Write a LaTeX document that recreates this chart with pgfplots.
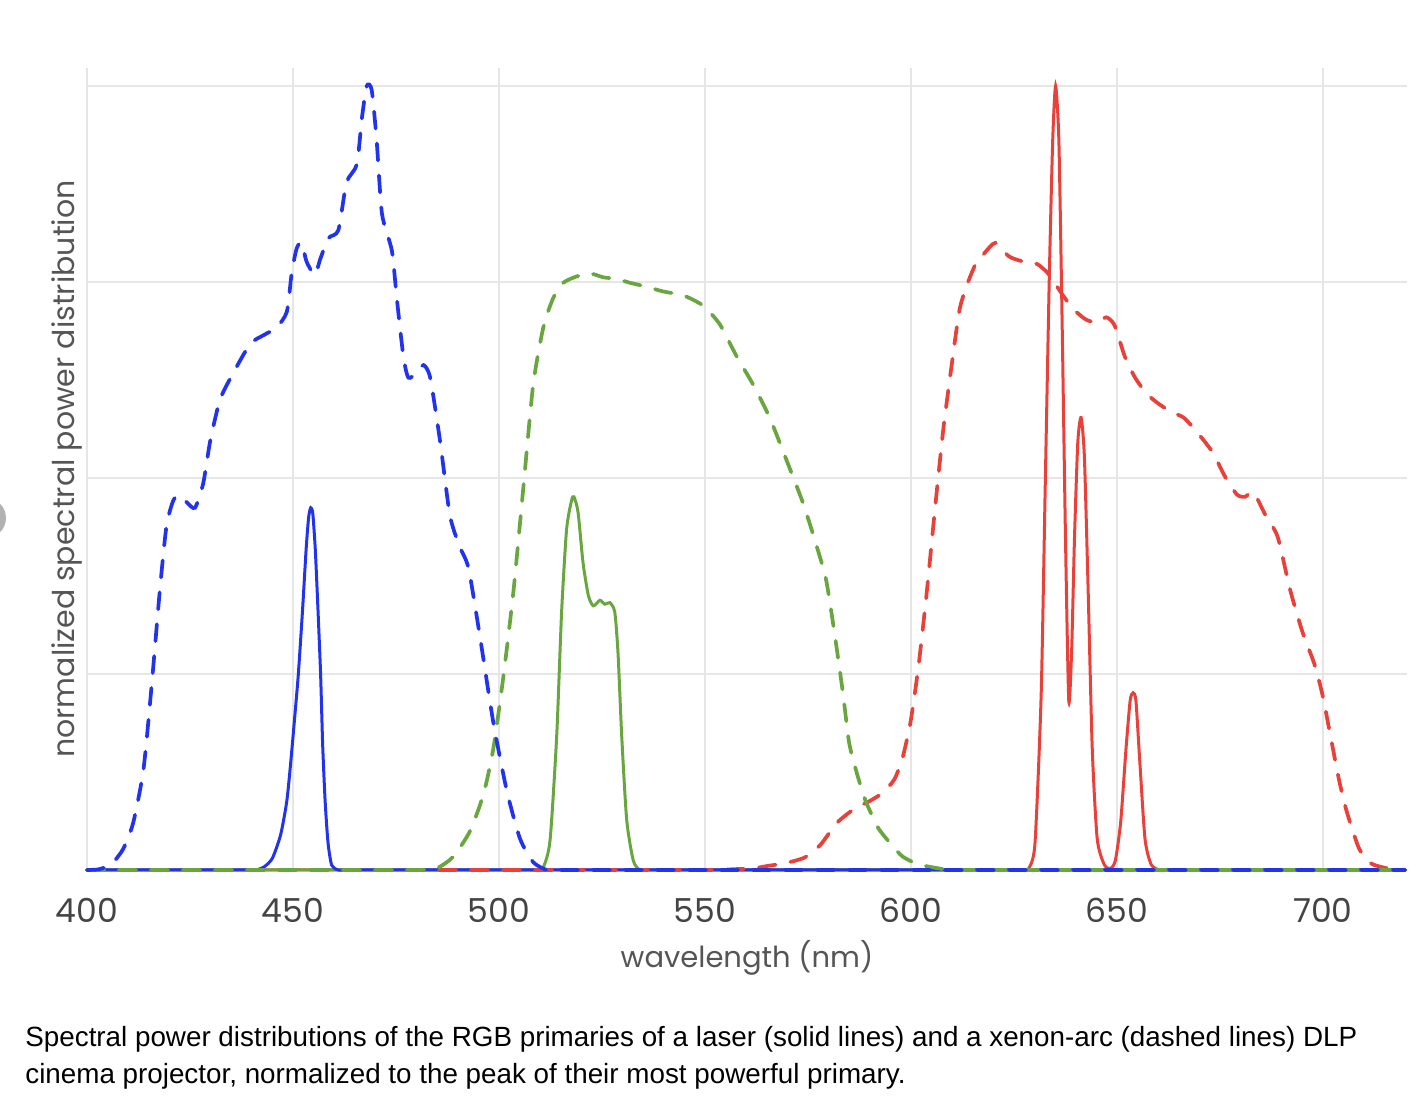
\documentclass[border=0pt]{standalone}
\usepackage{pgfplots}
\pgfplotsset{compat=1.18}
\usepackage{fontspec}
\setmainfont{Liberation Sans}
\newfontfamily\poppins{Poppins}

\definecolor{sprblue}{HTML}{2233EE}
\definecolor{sprgreen}{HTML}{6AA640}
\definecolor{sprred}{HTML}{E8413A}
\definecolor{gridgray}{HTML}{E6E6E6}
\definecolor{labelgray}{HTML}{555555}
\definecolor{tickgray}{HTML}{444444}

\begin{document}
\begin{tikzpicture}[x=1pt,y=1pt]
\useasboundingbox (0,0) rectangle (713,559);
\fill[black!30] (-7,300) circle (10);
\begin{axis}[
  at={(43.5pt,124pt)}, anchor=south west,
  scale only axis, width=660pt, height=401pt,
  xmin=400, xmax=720.4, ymin=0, ymax=1.023,
  xtick={400,450,...,700},
  ytick={0,0.25,0.5,0.75,1},
  yticklabels={,,,,},
  xmajorgrids, ymajorgrids,
  grid style={gridgray, line width=1pt},
  axis line style={draw=none},
  major tick length=0pt,
  clip=false,
  /pgf/number format/assume math mode=true,
  xticklabel style={font=\poppins\fontsize{16.5}{19}\selectfont, text=tickgray, anchor=base, yshift=-26.5pt},
  xlabel={wavelength (nm)},
  ylabel={normalized spectral power distribution},
  xlabel style={at={(axis description cs:0.5,-0.1222)}, anchor=base, font=\poppins\fontsize{14.5}{17}\selectfont, text=labelgray},
  ylabel style={at={(axis description cs:-0.0091,0.5)}, anchor=base, font=\poppins\fontsize{15}{18}\selectfont, text=labelgray},
  laser/.style={line width=1.5pt, smooth, tension=0.4},
  xenon/.style={line width=1.85pt, smooth, tension=0.4, line cap=round, dash pattern=on 8.5pt off 7.5pt},
]

% laser primaries (solid)
\addplot[laser, sprred] table {
400 0
480 0
560 0
600 0
615 0
621 0
624 0
626 0
627.5 0
628.6 0.002
630.1 0.034
631.6 0.223
632.6 0.493
633.6 0.762
634.4 0.93
635.1 1.0
635.9 0.93
636.7 0.695
637.5 0.425
638.3 0.216
639 0.28
639.7 0.425
640.5 0.546
641.3 0.577
642.1 0.526
643 0.358
644 0.155
645.2 0.04
646.9 0.007
648.4 0.002
649.6 0.012
650.9 0.061
652.2 0.155
653.2 0.216
653.9 0.226
654.6 0.216
655.5 0.142
656.8 0.04
658.3 0.007
660.3 0
662 0
665 0
670 0
680 0
700 0
720 0
};

\addplot[laser, sprgreen] table {
400 0
440 0
470 0
490 0
500 0
505 0
507.5 0
509.3 0
510.8 0.004
512.4 0.038
514 0.17
515.2 0.329
516.4 0.434
517.6 0.471
518.2 0.476
519.2 0.456
520.4 0.392
521.7 0.35
522.9 0.337
524.5 0.344
525.7 0.339
526.9 0.341
528.1 0.329
528.9 0.276
529.8 0.17
531 0.064
532.6 0.012
534.2 0
536 0
539 0
545 0
560 0
600 0
660 0
720 0
};

\addplot[laser, sprblue] table {
400 0
420 0
430 0
436 0
439 0
441 0
443 0.004
445 0.015
447 0.045
448.5 0.088
449.5 0.14
450.5 0.2
451.3 0.25
452.3 0.33
453.2 0.41
453.8 0.45
454.3 0.462
454.8 0.455
455.4 0.41
456 0.34
456.7 0.25
457.2 0.16
457.8 0.088
458.5 0.035
459.4 0.006
461 0
463 0
466 0
472 0
485 0
510 0
560 0
640 0
720 0
};

% xenon-arc primaries (dashed)
\addplot[xenon, sprred] table {
400 0
460 0
500 0
525 0
540 0
548 0
553 0
557 0.001
561.7 0.002
565 0.005
569.7 0.009
574.2 0.016
578 0.032
582 0.06
586 0.077
590 0.088
593 0.098
595.9 0.115
597.9 0.142
599.9 0.189
601.9 0.263
603.9 0.358
605.8 0.459
607.8 0.56
609.8 0.641
611.8 0.715
613.8 0.749
615.7 0.773
617.7 0.786
620.5 0.80
623.7 0.783
626.6 0.777
630.6 0.773
633.6 0.759
636.6 0.735
639.5 0.715
642.5 0.702
645.4 0.698
647.4 0.705
649.4 0.695
651.9 0.655
654.4 0.628
657.3 0.607
660.3 0.594
663.3 0.584
666.2 0.577
669.2 0.56
673.2 0.533
676.1 0.503
679.1 0.479
681.1 0.476
683.1 0.482
686.1 0.452
689 0.425
692 0.358
695 0.304
697.9 0.263
699.9 0.223
701.9 0.169
703.9 0.115
705.8 0.074
708.8 0.027
711.8 0.008
716.7 0.001
720 0
};

\addplot[xenon, sprgreen] table {
400 0
430 0
455 0
467 0
474 0
478 0
481 0
483.5 0.001
485.6 0.004
488.9 0.017
492.9 0.049
496.2 0.096
498.6 0.154
501 0.244
503.5 0.355
505.9 0.487
508.3 0.619
510.8 0.693
513.2 0.73
515.6 0.749
518.8 0.757
522.1 0.761
525.3 0.756
528.5 0.754
531.8 0.749
535.8 0.744
539.8 0.738
544.7 0.733
549.5 0.72
553.6 0.696
557.6 0.656
561.7 0.619
565.7 0.577
569.7 0.524
573.8 0.468
577 0.415
579.4 0.37
581.5 0.30
583.5 0.225
585 0.162
587 0.121
589 0.088
592 0.054
595 0.034
598 0.017
602 0.007
608 0.001
612 0
616 0
624 0
640 0
670 0
720 0
};

\addplot[xenon, sprblue] table {
400 0
403 0.001
406 0.008
408.8 0.027
411.2 0.06
413.7 0.128
415.7 0.236
417.7 0.358
419.3 0.439
421 0.472
422.6 0.478
424.2 0.469
426.2 0.462
428.2 0.493
429.9 0.547
432.3 0.60
435.5 0.634
439.6 0.671
442.8 0.682
446 0.692
448.5 0.712
449.7 0.762
450.9 0.793
452.1 0.80
453.3 0.776
455.3 0.759
456.6 0.779
458.6 0.806
461 0.816
463 0.877
465.5 0.90
466.7 0.958
467.9 1.0
469.1 0.995
470.3 0.931
471.6 0.837
474 0.79
475.2 0.729
476.8 0.655
478 0.628
480 0.634
481.7 0.644
483.3 0.628
485.7 0.547
488.1 0.452
490.5 0.412
492.6 0.385
495.4 0.297
498.6 0.189
501.9 0.101
505.1 0.04
508.3 0.01
511.6 0
514 0
518 0
526 0
542 0
575 0
640 0
720 0
};
\end{axis}

\node[anchor=base west, inner sep=0pt, font=\fontsize{13.9}{16}\selectfont] at (12.5,35.5)
  {Spectral power distributions of the RGB primaries of a laser (solid lines) and a xenon-arc (dashed lines) DLP};
\node[anchor=base west, inner sep=0pt, font=\fontsize{13.9}{16}\selectfont] at (12.5,17)
  {cinema projector, normalized to the peak of their most powerful primary.};
\end{tikzpicture}
\end{document}
